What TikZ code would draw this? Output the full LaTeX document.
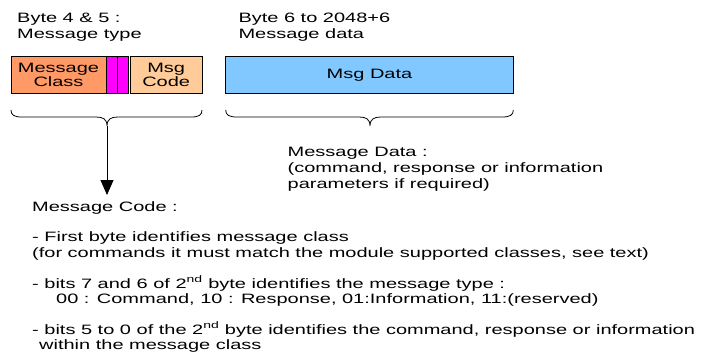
\documentclass[tikz,border=0pt]{standalone}
\usepackage{fontspec}
\setmainfont{Liberation Sans}[FakeStretch=1.47]
\usetikzlibrary{arrows.meta}
\definecolor{mclass}{RGB}{255,153,102}
\definecolor{mcode}{RGB}{255,204,153}
\definecolor{mdata}{RGB}{128,200,255}
\definecolor{mtype}{RGB}{255,0,255}
\begin{document}
\begin{tikzpicture}[x=1pt,y=-1pt,
  txt/.style={anchor=base west, inner sep=0pt, font=\fontsize{13.6}{15.6}\selectfont},
  fld/.style={draw=black, line width=0.8pt, inner sep=0pt, font=\fontsize{13.6}{14.6}\selectfont, align=center, minimum height=36.6pt},
  brace/.style={line width=0.8pt},
  link/.style={line width=0.9pt, -{Triangle[width=13pt,length=15pt]}}]
\useasboundingbox (0,0) rectangle (703,360);
% header labels
\node[txt] (b45a) at (17,22.7) {Byte 4 \& 5 :};
\node[txt] (b45b) at (17,38.5) {Message type};
\node[txt] (b6a) at (238.3,22.7) {Byte 6 to 2048+6};
\node[txt] (b6b) at (238.3,38.5) {Message data};
% fields
\node[fld, fill=mclass, minimum width=95pt] (mc) at (58.5,75) {Message\\Class};
\node[fld, fill=mtype, minimum width=11.7pt] (m1) at (111.85,75) {};
\node[fld, fill=mtype, minimum width=10.6pt] (m2) at (123,75) {};
\node[fld, fill=mcode, minimum width=72.3pt] (code) at (166.15,75) {Msg\\Code};
\node[fld, fill=mdata, minimum width=287.6pt] (data) at (369.5,75) {Msg Data};
% braces
\coordinate (t1) at (107,126);
\coordinate (t2) at (370,126);
\draw[brace] (11,110) .. controls (11,115) and (14,117) .. (22,117) -- (96,117)
  .. controls (103,117) and (107,119) .. (t1)
  .. controls (107,119) and (111,117) .. (118,117) -- (191,117)
  .. controls (199,117) and (202,115) .. (202,110);
\draw[brace] (225.7,110) .. controls (225.7,115) and (229,117) .. (237,117) -- (359,117)
  .. controls (366,117) and (370,119) .. (t2)
  .. controls (370,119) and (374,117) .. (381,117) -- (502,117)
  .. controls (510,117) and (513.3,115) .. (513.3,110);
% arrow
\coordinate (a1) at (107,195);
\draw[link] (t1) -- (a1);
% message data description
\node[txt] (md1) at (287.5,156) {Message Data :};
\node[txt] (md2) at (287.5,172) {(command, response or information};
\node[txt] (md3) at (287.5,188) {parameters if required)};
% message code description
\node[txt] (mcd) at (32,211) {Message Code :};
\node[txt] (l1) at (32,241.8) {- First byte identifies message class};
\node[txt] (l2) at (32,257.2) {(for commands it must match the module supported classes, see text)};
\node[txt] (l3) at (32,288) {- bits 7 and 6 of 2\textsuperscript{nd} byte identifies the message type :};
\node[txt] (l4) at (56,303.4) {00 : Command, 10 : Response, 01:Information, 11:(reserved)};
\node[txt] (l5) at (32,334.2) {- bits 5 to 0 of the 2\textsuperscript{nd} byte identifies the command, response or information};
\node[txt] (l6) at (39,349.6) {within the message class};
\end{tikzpicture}
\end{document}
